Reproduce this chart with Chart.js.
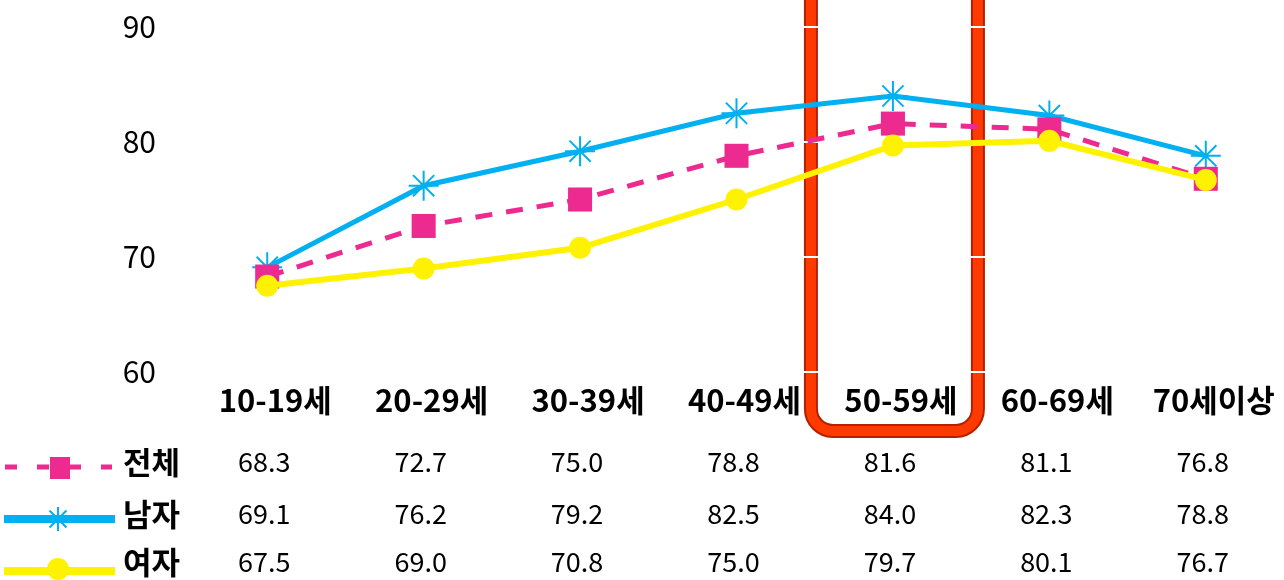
<!DOCTYPE html>
<html>
<head>
<meta charset="utf-8">
<script src="https://cdn.jsdelivr.net/npm/chart.js@4/dist/chart.umd.min.js"></script>
<style>
  html, body { margin: 0; padding: 0; background: #fff; overflow: hidden; }
  #wrap { width: 1284px; height: 580px; position: relative; }
  #chart { display: block; }
</style>
</head>
<body>
<div id="wrap"><canvas id="chart" width="1284" height="580"></canvas></div>
<script>
const ageGroups = ['10-19세', '20-29세', '30-39세', '40-49세', '50-59세', '60-69세', '70세이상'];
const totalValues = [68.3, 72.7, 75.0, 78.8, 81.6, 81.1, 76.8];
const maleValues = [69.1, 76.2, 79.2, 82.5, 84.0, 82.3, 78.8];
const femaleValues = [67.5, 69.0, 70.8, 75.0, 79.7, 80.1, 76.7];
const yTicks = [60, 70, 80, 90];
const highlightIndex = 4;

const FONT = '"Noto Sans CJK KR", "Noto Sans", sans-serif';
const PINK = '#ec2a90';
const BLUE = '#00b0f0';
const YELLOW = '#fff200';

// red rounded box behind the 50-59 column
const highlightBox = {
    id: 'highlightBox',
    beforeDraw(chart) {
        const ctx = chart.ctx;
        const cx = chart.scales.x.getPixelForValue(highlightIndex);
        const left = cx - 82, right = cx + 85, bottom = 431, top = -20, r = 22;
        ctx.save();
        ctx.beginPath();
        ctx.moveTo(left, top);
        ctx.lineTo(left, bottom - r);
        ctx.arcTo(left, bottom, left + r, bottom, r);
        ctx.lineTo(right - r, bottom);
        ctx.arcTo(right, bottom, right, bottom - r, r);
        ctx.lineTo(right, top);
        ctx.strokeStyle = '#b52000';
        ctx.lineWidth = 14;
        ctx.stroke();
        ctx.strokeStyle = '#ff3a00';
        ctx.lineWidth = 10;
        ctx.stroke();
        ctx.restore();
    }
};

// simple asterisk marker for the legend sample
function drawStar(ctx, x, y, r) {
    ctx.beginPath();
    for (let k = 0; k < 4; k++) {
        const a = k * Math.PI / 4;
        ctx.moveTo(x - Math.cos(a) * r, y - Math.sin(a) * r);
        ctx.lineTo(x + Math.cos(a) * r, y + Math.sin(a) * r);
    }
    ctx.stroke();
}

// data table with legend samples under the x axis
const dataTable = {
    id: 'dataTable',
    afterDraw(chart) {
        const ctx = chart.ctx;
        const x = chart.scales.x;
        const rows = [
            { label: '전체', values: totalValues, y: 462 },
            { label: '남자', values: maleValues, y: 514 },
            { label: '여자', values: femaleValues, y: 562 }
        ];
        ctx.save();
        rows.forEach((row, r) => {
            if (r === 0) {
                ctx.strokeStyle = PINK;
                ctx.lineWidth = 5;
                ctx.setLineDash([12, 20]);
                ctx.beginPath();
                ctx.moveTo(5, row.y + 5);
                ctx.lineTo(112, row.y + 5);
                ctx.stroke();
                ctx.setLineDash([]);
                ctx.fillStyle = PINK;
                ctx.fillRect(50, row.y - 5, 20, 22);
            } else if (r === 1) {
                ctx.strokeStyle = BLUE;
                ctx.lineWidth = 8;
                ctx.beginPath();
                ctx.moveTo(4, row.y + 5);
                ctx.lineTo(115, row.y + 5);
                ctx.stroke();
                ctx.lineWidth = 2;
                drawStar(ctx, 58, row.y + 5, 12);
            } else {
                ctx.strokeStyle = YELLOW;
                ctx.lineWidth = 8;
                ctx.beginPath();
                ctx.moveTo(4, row.y + 9);
                ctx.lineTo(115, row.y + 9);
                ctx.stroke();
                ctx.fillStyle = YELLOW;
                ctx.beginPath();
                ctx.arc(58, row.y + 7, 11, 0, Math.PI * 2);
                ctx.fill();
            }
            ctx.fillStyle = '#000';
            ctx.textBaseline = 'middle';
            ctx.textAlign = 'left';
            ctx.font = 'bold 31px ' + FONT;
            ctx.fillText(row.label, 123, row.y);
            ctx.textAlign = 'center';
            ctx.font = '27px ' + FONT;
            row.values.forEach((v, i) => {
                ctx.fillText(v.toFixed(1), x.getPixelForValue(i) - 3, row.y);
            });
        });
        ctx.restore();
    }
};

new Chart(document.getElementById('chart'), {
    type: 'line',
    data: {
        labels: ageGroups,
        datasets: [
            {
                label: '전체',
                data: totalValues,
                borderColor: PINK,
                backgroundColor: PINK,
                borderWidth: 5,
                borderDash: [17, 14],
                pointStyle: 'rect',
                pointRadius: 17,
                pointBorderWidth: 0,
                tension: 0,
                order: 1
            },
            {
                label: '남자',
                data: maleValues,
                borderColor: BLUE,
                backgroundColor: BLUE,
                borderWidth: 5,
                pointStyle: 'star',
                pointRadius: 15,
                pointBorderWidth: 2,
                tension: 0,
                order: 2
            },
            {
                label: '여자',
                data: femaleValues,
                borderColor: YELLOW,
                backgroundColor: YELLOW,
                borderWidth: 6,
                pointStyle: 'circle',
                pointRadius: 11,
                pointBorderWidth: 0,
                tension: 0,
                order: 0
            }
        ]
    },
    options: {
        responsive: false,
        animation: false,
        devicePixelRatio: 1,
        layout: { autoPadding: false, padding: { top: 27, right: 0, bottom: 158, left: 0 } },
        plugins: {
            legend: { display: false },
            tooltip: { enabled: false }
        },
        scales: {
            x: {
                offset: true,
                grid: { display: false, drawTicks: false },
                border: { display: false },
                ticks: {
                    autoSkip: false,
                    maxRotation: 0,
                    padding: 10,
                    labelOffset: 8,
                    color: '#000',
                    font: { family: FONT, size: 31, weight: 'bold' }
                },
                afterFit(scale) {
                    scale.height = 50;
                    scale.paddingLeft = 0;
                    scale.paddingRight = 0;
                }
            },
            y: {
                min: 60,
                max: 90,
                afterBuildTicks(scale) { scale.ticks = yTicks.map(v => ({ value: v })); },
                grid: { color: '#ffffff', lineWidth: 2, drawTicks: false },
                border: { display: false },
                ticks: {
                    padding: 33,
                    color: '#000',
                    font: { family: FONT, size: 30 }
                },
                afterFit(scale) {
                    scale.width = 189;
                    scale.paddingTop = 0;
                    scale.paddingBottom = 0;
                }
            }
        }
    },
    plugins: [highlightBox, dataTable]
});
</script>
</body>
</html>
